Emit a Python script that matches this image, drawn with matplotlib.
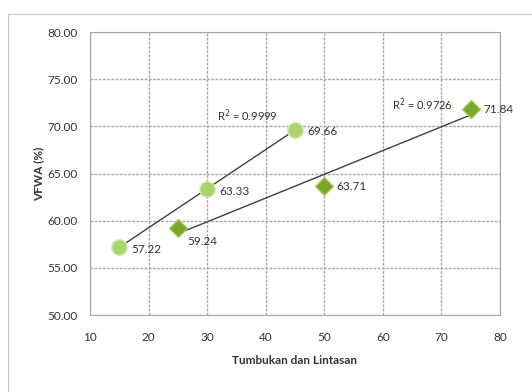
import matplotlib.pyplot as plt
import numpy as np
from matplotlib.patches import Rectangle

# ===== Data =====
x_circle = [15, 30, 45]
y_circle = [57.22, 63.33, 69.66]
x_diamond = [25, 50, 75]
y_diamond = [59.24, 63.71, 71.84]
r2_circle = "R$^2$ = 0.9999"
r2_diamond = "R$^2$ = 0.9726"

plt.rcParams['font.family'] = ['Lato', 'DejaVu Sans']

fig = plt.figure(figsize=(5.32, 3.92), dpi=100)
ax = fig.add_axes([0.169, 0.196, 0.771, 0.722])

# chart area frame
fig.patches.append(Rectangle((0.015, -0.05), 1.2, 1.015, transform=fig.transFigure,
                             fill=False, edgecolor="#c8c8c8", lw=0.8))

# linear trendlines over each series' x range
for xs, ys in [(x_circle, y_circle), (x_diamond, y_diamond)]:
    k, b = np.polyfit(xs, ys, 1)
    xx = np.array([min(xs), max(xs)])
    ax.plot(xx, k * xx + b, color="#404040", lw=1.0, zorder=3)

ax.plot(x_circle, y_circle, "o", ms=11, mfc="#a8d468", mec="#cde8a8", mew=1.0, zorder=4)
ax.plot(x_diamond, y_diamond, "D", ms=9.5, mfc="#7aa82a", mec="#a8cc60", mew=1.0, zorder=4)

# point labels
fs = 8.5
for xv, yv in zip(x_circle, y_circle):
    ax.annotate(f"{yv:.2f}", (xv, yv), xytext=(9, -4), textcoords="offset points",
                fontsize=fs, color="#333333")
ax.annotate(f"{y_diamond[0]:.2f}", (x_diamond[0], y_diamond[0]), xytext=(7, -12),
            textcoords="offset points", fontsize=fs, color="#333333")
for xv, yv in zip(x_diamond[1:], y_diamond[1:]):
    ax.annotate(f"{yv:.2f}", (xv, yv), xytext=(9, -3), textcoords="offset points",
                fontsize=fs, color="#333333")

ax.text(31.7, 70.6, r2_circle, fontsize=8, color="#333333")
ax.text(61.5, 71.8, r2_diamond, fontsize=8, color="#333333")

ax.set_xlim(10, 80)
ax.set_ylim(50, 80)
ax.set_xticks(range(10, 81, 10))
ax.set_yticks(range(50, 81, 5))
ax.set_yticklabels([f"{v:.2f}" for v in range(50, 81, 5)])
ax.tick_params(labelsize=fs, length=0, colors="#333333")
ax.tick_params(axis="y", pad=9)
ax.tick_params(axis="x", pad=12)
ax.grid(True, color="#a8a8a8", linestyle=(0, (2, 1)), lw=1.0)
ax.set_axisbelow(True)
for s in ax.spines.values():
    s.set_color("#a8a8a8")
    s.set_linestyle((0, (2, 1)))

ax.set_xlabel("Tumbukan dan Lintasan", fontsize=8.5, fontweight="bold", color="#333333", labelpad=9)
ax.set_ylabel("VFWA (%)", fontsize=8.5, fontweight="bold", color="#333333", labelpad=2)

fig.savefig("out.png", dpi=100)
